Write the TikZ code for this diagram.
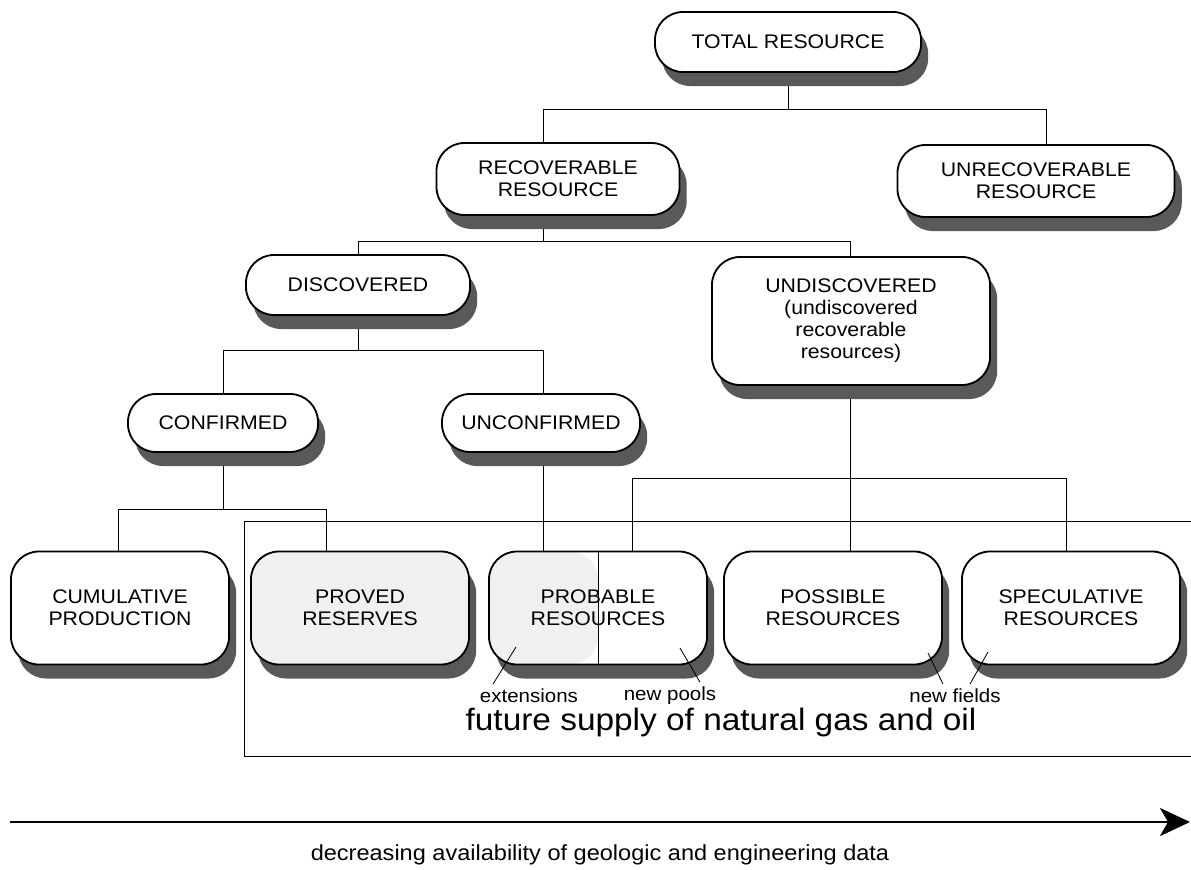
\documentclass[tikz,border=0pt]{standalone}
\usepackage{fontspec}
\setmainfont[FakeStretch=1.08]{Liberation Sans}
\usetikzlibrary{arrows.meta,shadows,backgrounds}

\begin{document}
\begin{tikzpicture}[x=0.025cm,y=-0.025cm,
        resbox/.style={draw,line width=1.3pt,fill=white,rounded corners=0.7cm,align=center,inner sep=0pt,
                font={\fontsize{14}{15.6}\selectfont},
                drop shadow={shadow xshift=0.18cm,shadow yshift=-0.35cm,fill=black!65,opacity=1}},
        lowbox/.style={resbox,minimum width=5.45cm,minimum height=2.825cm},
        wire/.style={line width=0.6pt},
        note/.style={font={\fontsize{13.5}{15}\selectfont}}]
        \useasboundingbox (0,0) rectangle (1191,869);
        % tree of boxes
        \node[resbox,minimum width=6.65cm,minimum height=1.5cm] (total) at (788,42) {TOTAL RESOURCE};
        \node[resbox,minimum width=6.075cm,minimum height=1.8cm] (recov) at (558,179) {RECOVERABLE\\RESOURCE};
        \node[resbox,minimum width=6.925cm,minimum height=1.8cm] (unrecov) at (1036,181) {UNRECOVERABLE\\RESOURCE};
        \node[resbox,minimum width=5.6cm,minimum height=1.5cm] (disc) at (358,285) {DISCOVERED};
        \node[resbox,minimum width=6.95cm,minimum height=3.2cm] (undisc) at (851,321) {UNDISCOVERED\\(undiscovered\\recoverable\\resources)};
        \node[resbox,minimum width=4.75cm,minimum height=1.45cm] (conf) at (223,423) {CONFIRMED};
        \node[resbox,minimum width=4.95cm,minimum height=1.45cm] (unconf) at (541,423) {UNCONFIRMED};
        \node[lowbox] (cumul) at (120,608) {CUMULATIVE\\PRODUCTION};
        \node[lowbox,fill=gray!12] (proved) at (360,608) {PROVED\\RESERVES};
        \node[lowbox,path picture={\fill[gray!12] (path picture bounding box.south west) rectangle (path picture bounding box.north);
                \draw[wire] (path picture bounding box.south) -- (path picture bounding box.north);}] (prob) at (598,608) {PROBABLE\\RESOURCES};
        \node[lowbox] (poss) at (833,608) {POSSIBLE\\RESOURCES};
        \node[lowbox] (spec) at (1071,608) {SPECULATIVE\\RESOURCES};
        % connectors behind the boxes
        \begin{scope}[on background layer]
                \draw[wire] (total.south) -- ++(0,36) coordinate (f1);
                \draw[wire] (recov.north -| 543,0) |- (f1) -| (unrecov.north -| 1046,0);
                \draw[wire] (recov.south -| 543,0) -- ++(0,25) coordinate (f2);
                \draw[wire] (disc.north) |- (f2) -| (undisc.north -| 850,0);
                \draw[wire] (disc.south) -- ++(0,34) coordinate (f3);
                \draw[wire] (conf.north) |- (f3) -| (unconf.north -| 543,0);
                \draw[wire] (conf.south) -- ++(0,56) coordinate (f4);
                \draw[wire] (cumul.north -| 118,0) |- (f4) -| (proved.north -| 326,0);
                \draw[wire] (unconf.south -| 543,0) -- (prob.north -| 543,0);
                \draw[wire] (undisc.south -| 850,0) -- ++(0,92) coordinate (f5);
                \draw[wire] (prob.north -| 632,0) |- (f5) -| (spec.north -| 1066,0);
                \draw[wire] (f5) -- (poss.north -| 850,0);
        \end{scope}
        % frame of the future supply
        \draw[wire] (1191,521) -| (244,756) -- (1191,756);
        \node[font={\fontsize{22}{24}\selectfont}] (future) at (721,722) {future supply of natural gas and oil};
        % small labels with leaders
        \node[note] (ext) at (529,696) {extensions};
        \node[note] (pools) at (670,696) {new pools};
        \node[note] (fields) at (955,696) {new fields};
        \coordinate (extin) at (516,647);
        \coordinate (poolsin) at (680,648);
        \coordinate (possin) at (928,653);
        \coordinate (specin) at (988,652);
        \draw[wire] (ext.north -| 493,0) -- (extin);
        \draw[wire] (pools.north -| 700,0) -- (poolsin);
        \draw[wire] (fields.north -| 943,0) -- (possin);
        \draw[wire] (fields.north -| 970,0) -- (specin);
        % data axis
        \coordinate (dstart) at (10,822);
        \coordinate (dend) at (1190,822);
        \draw[line width=1.8pt,-{Stealth[length=0.75cm,width=0.7cm,inset=0.2cm]}] (dstart) -- (dend);
        \node[font={\fontsize{15.5}{17}\selectfont}] (datanote) at (600,855) {decreasing availability of geologic and engineering data};
\end{tikzpicture}
\end{document}
